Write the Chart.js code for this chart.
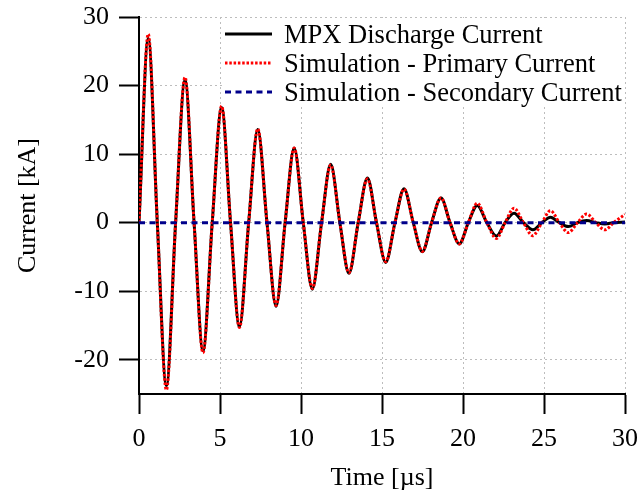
<!DOCTYPE html>
<html><head><meta charset="utf-8">
<script src="https://cdn.jsdelivr.net/npm/chart.js@4"></script>
<style>html,body{margin:0;padding:0;background:#fff}#wrap{width:641px;height:497px}</style>
</head><body><div id="wrap"><canvas id="c" width="641" height="497"></canvas></div>
<script>
// ---- data ----
const timeTicks = [0, 5, 10, 15, 20, 25, 30];
const currentTicks = [-20, -10, 0, 10, 20, 30];

const measuredTime = [0, 0.57, 1.13, 1.69, 2.26, 2.84, 3.4, 3.95, 4.52, 5.1, 5.65, 6.2, 6.77, 7.33, 7.9, 8.46, 9.02, 9.58, 10.14, 10.7, 11.27, 11.83, 12.4, 12.96, 13.53, 14.1, 14.66, 15.23, 15.8, 16.36, 16.93, 17.49, 18.06, 18.64, 19.2, 19.77, 20.33, 20.88, 21.47, 22.06, 22.6, 23.15, 23.73, 24.32, 24.87, 25.4, 25.95, 26.5, 27.07, 27.63, 28.2, 28.76, 29.3, 30];
const measuredCurrent = [0, 26.9, 0, -23.8, 0, 20.8, 0, -18.7, 0, 16.8, 0, -15.2, 0, 13.6, 0, -12.2, 0, 10.9, 0, -9.7, 0, 8.5, 0, -7.4, 0, 6.5, 0, -5.8, 0, 4.95, 0, -4.25, 0, 3.6, 0, -3.1, 0, 2.5, 0, -1.95, 0, 1.37, 0, -1.05, 0, 0.8, 0, -0.58, 0, 0.3, 0, -0.2, 0, 0.1];

const primaryTime = [0, 0.57, 1.13, 1.69, 2.26, 2.84, 3.4, 3.95, 4.52, 5.1, 5.65, 6.2, 6.77, 7.33, 7.9, 8.46, 9.02, 9.58, 10.14, 10.7, 11.27, 11.83, 12.4, 12.96, 13.53, 14.1, 14.66, 15.23, 15.8, 16.36, 16.93, 17.49, 18.06, 18.64, 19.2, 19.77, 20.33, 20.88, 21.47, 22.06, 22.6, 23.15, 23.73, 24.3, 24.87, 25.4, 25.95, 26.5, 27.07, 27.63, 28.2, 28.76, 29.3, 30];
const primaryCurrent = [0, 27.5, 0, -24.4, 0, 21.2, 0, -19.0, 0, 17.0, 0, -15.3, 0, 13.7, 0, -12.1, 0, 10.9, 0, -9.6, 0, 8.4, 0, -7.3, 0, 6.4, 0, -5.7, 0, 4.9, 0, -4.2, 0, 3.6, 0, -3.1, 0, 2.85, 0, -2.3, 0, 2.1, 0, -1.9, 0, 1.75, 0, -1.45, 0, 1.25, 0, -1.05, 0, 1.2];

const secondaryTime = [0, 30];
const secondaryCurrent = [0, 0];

const seriesLabels = ['MPX Discharge Current', 'Simulation - Primary Current', 'Simulation - Secondary Current'];

// ---- chart ----
const FONT = "'Liberation Serif', 'Times New Roman', serif";
const pairs = (xs, ys) => xs.map((x, i) => ({x: x, y: ys[i]}));

const boxLegend = {
  id: 'boxLegend',
  afterDatasetsDraw(chart) {
    const ctx = chart.ctx, a = chart.chartArea;
    const x0 = a.left + 83, y0 = a.top + 1, x1 = a.right - 1, y1 = a.top + 89;
    ctx.save();
    ctx.fillStyle = '#ffffff';
    ctx.fillRect(x0, y0, x1 - x0, y1 - y0);
    const rows = [a.top + 17, a.top + 46, a.top + 75];
    chart.data.datasets.forEach((ds, i) => {
      const yc = rows[i];
      ctx.beginPath();
      ctx.lineWidth = ds.borderWidth;
      ctx.strokeStyle = ds.borderColor;
      ctx.setLineDash(ds.borderDash || []);
      ctx.moveTo(x0 + 3, yc);
      ctx.lineTo(x0 + 50, yc);
      ctx.stroke();
      ctx.setLineDash([]);
      ctx.fillStyle = '#000';
      ctx.font = '26.5px ' + FONT;
      ctx.textBaseline = 'alphabetic';
      ctx.textAlign = 'left';
      ctx.fillText(ds.label, x0 + 62, yc + 8.5);
    });
    ctx.restore();
  }
};

new Chart(document.getElementById('c'), {
  type: 'line',
  data: {
    datasets: [
      {label: seriesLabels[0], data: pairs(measuredTime, measuredCurrent), borderColor: '#000000', borderWidth: 3, borderDash: [], order: 3},
      {label: seriesLabels[1], data: pairs(primaryTime, primaryCurrent), borderColor: '#ff0000', borderWidth: 3, borderDash: [2.5, 1.8], order: 2},
      {label: seriesLabels[2], data: pairs(secondaryTime, secondaryCurrent), borderColor: '#00008b', borderWidth: 3, borderDash: [6, 4.5], order: 1}
    ]
  },
  options: {
    responsive: false,
    animation: false,
    devicePixelRatio: 1,
    layout: {padding: {top: 17, right: 16, left: 0, bottom: 0}},
    elements: {
      point: {radius: 0},
      line: {cubicInterpolationMode: 'monotone', fill: false}
    },
    plugins: {legend: {display: false}, tooltip: {enabled: false}},
    scales: {
      x: {
        type: 'linear', min: 0, max: 30,
        afterBuildTicks: s => { s.ticks = timeTicks.map(v => ({value: v})); },
        afterFit: s => { s.height = 103; s.paddingLeft = 0; s.paddingRight = 0; },
        ticks: {color: '#000', font: {family: FONT, size: 26}, padding: 10, maxRotation: 0},
        grid: {color: '#bdbdbd', lineWidth: 1, tickLength: 20, tickColor: '#000', tickWidth: 2, tickBorderDash: []},
        border: {display: true, color: '#000', width: 2, dash: [2, 3]},
        title: {display: true, text: 'Time [µs]', color: '#000', font: {family: FONT, size: 26}, padding: {top: 0, bottom: 3}}
      },
      y: {
        type: 'linear', min: -25, max: 30,
        afterBuildTicks: s => { s.ticks = currentTicks.map(v => ({value: v})); },
        afterFit: s => { s.width = 139; s.paddingTop = 0; s.paddingBottom = 0; },
        ticks: {color: '#000', font: {family: FONT, size: 26}, padding: 10},
        grid: {color: '#bdbdbd', lineWidth: 1, tickLength: 20, tickColor: '#000', tickWidth: 2, tickBorderDash: []},
        border: {display: true, color: '#000', width: 2, dash: [2, 3]},
        title: {display: true, text: 'Current [kA]', color: '#000', font: {family: FONT, size: 26}, padding: {top: 13, bottom: 0}}
      }
    }
  },
  plugins: [boxLegend]
});
</script>
</body></html>
